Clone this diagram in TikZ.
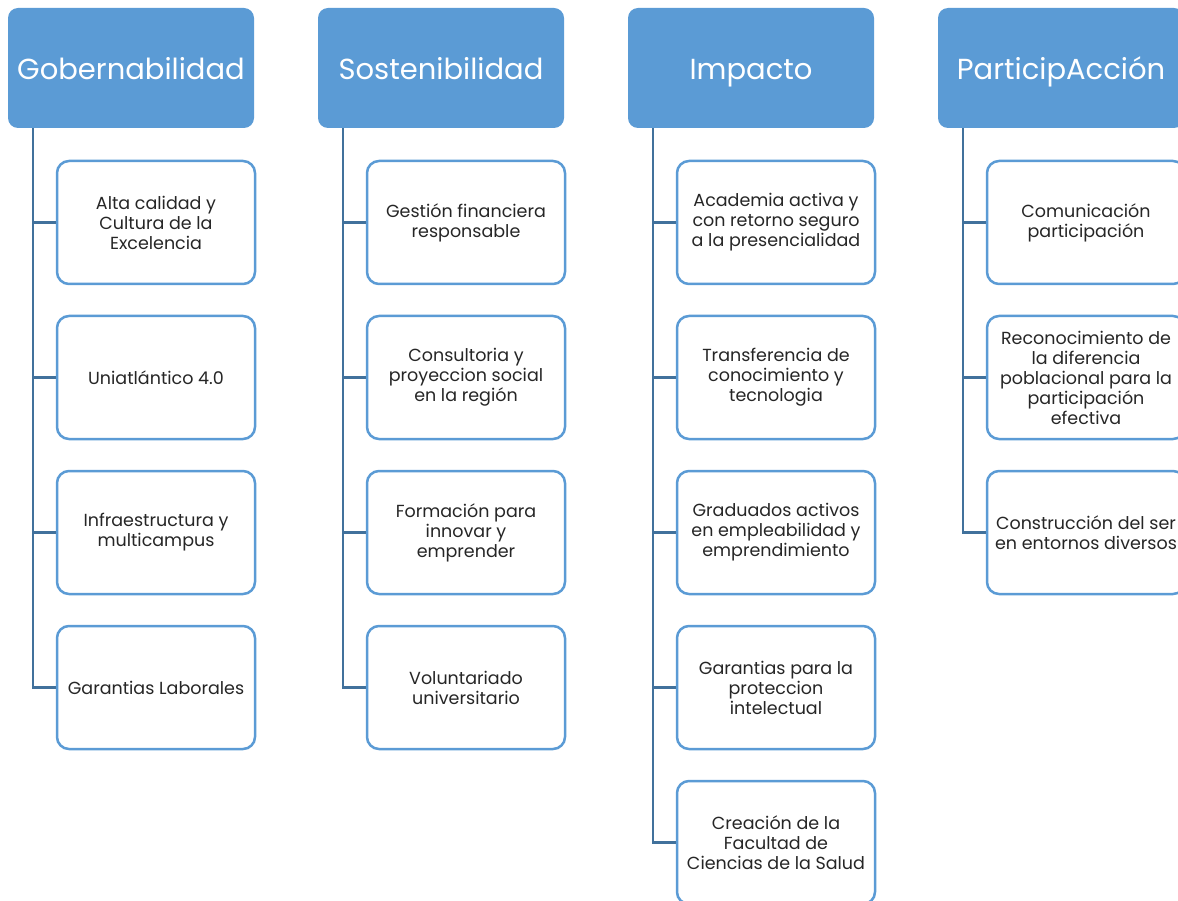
\documentclass[tikz,border=0pt]{standalone}
\usepackage{fontspec}
\setmainfont{Poppins}
\usepackage[rgb]{xcolor}
\usetikzlibrary{calc}
\definecolor{hdrblue}{HTML}{5B9BD5}
\definecolor{linkblue}{HTML}{41719C}
\tikzset{
  header/.style={fill=hdrblue,draw=none,rounded corners=10pt,minimum width=246pt,minimum height=120pt,
                 text=white,font=\fontsize{29}{34}\selectfont,inner sep=0pt,text height=28pt,text depth=4pt},
  item/.style={fill=white,draw=hdrblue,line width=2.5pt,rounded corners=12pt,minimum width=198pt,minimum height=123pt,
               align=center,font=\fontsize{17.5}{20}\selectfont,inner sep=0pt,text=black!85},
  link/.style={draw=linkblue,line width=2.6pt}
}

\begin{document}
\begin{tikzpicture}[x=1pt,y=-1pt]
  \useasboundingbox (0,0) rectangle (1178,901);
  \clip (0,0) rectangle (1178,901);

  % headers
  \node[header] (gob) at (131,68) {Gobernabilidad};
  \node[header] (sos) at (441,68) {Sostenibilidad};
  \node[header] (imp) at (751,68) {Impacto};
  \node[header] (par) at (1061,68) {ParticipAcción};

  % Gobernabilidad
  \node[item] (gob1) at (156,222.5) {Alta calidad y\\Cultura de la\\Excelencia};
  \node[item] (gob2) at (156,377.5) {Uniatlántico 4.0};
  \node[item] (gob3) at (156,532.5) {Infraestructura y\\multicampus};
  \node[item] (gob4) at (156,687.5) {Garantias Laborales};

  % Sostenibilidad
  \node[item] (sos1) at (466,222.5) {Gestión financiera\\responsable};
  \node[item] (sos2) at (466,377.5) {Consultoria y\\proyeccion social\\en la región};
  \node[item] (sos3) at (466,532.5) {Formación para\\innovar y\\emprender};
  \node[item] (sos4) at (466,687.5) {Voluntariado\\universitario};

  % Impacto
  \node[item] (imp1) at (776,222.5) {Academia activa y\\con retorno seguro\\a la presencialidad};
  \node[item] (imp2) at (776,377.5) {Transferencia de\\conocimiento y\\tecnologia};
  \node[item] (imp3) at (776,532.5) {Graduados activos\\en empleabilidad y\\emprendimiento};
  \node[item] (imp4) at (776,687.5) {Garantias para la\\proteccion\\intelectual};
  \node[item] (imp5) at (776,842.5) {Creación de la\\Facultad de\\Ciencias de la Salud};

  % ParticipAcción
  \node[item] (par1) at (1086,222.5) {Comunicación\\participación};
  \node[item] (par2) at (1086,377.5) {Reconocimiento de\\la diferencia\\poblacional para la\\participación\\efectiva};
  \node[item] (par3) at (1086,532.5) {Construcción del ser\\en entornos diversos};

  % connectors
  \foreach \hd/\last in {gob/4,sos/4,imp/5,par/3}{
    \coordinate (\hd top) at ($(\hd.south west)+(25,0)$);
    \foreach \k in {1,...,\last}{
      \draw[link] (\hd top) |- (\hd\k.west);
    }
  }

\end{tikzpicture}
\end{document}
